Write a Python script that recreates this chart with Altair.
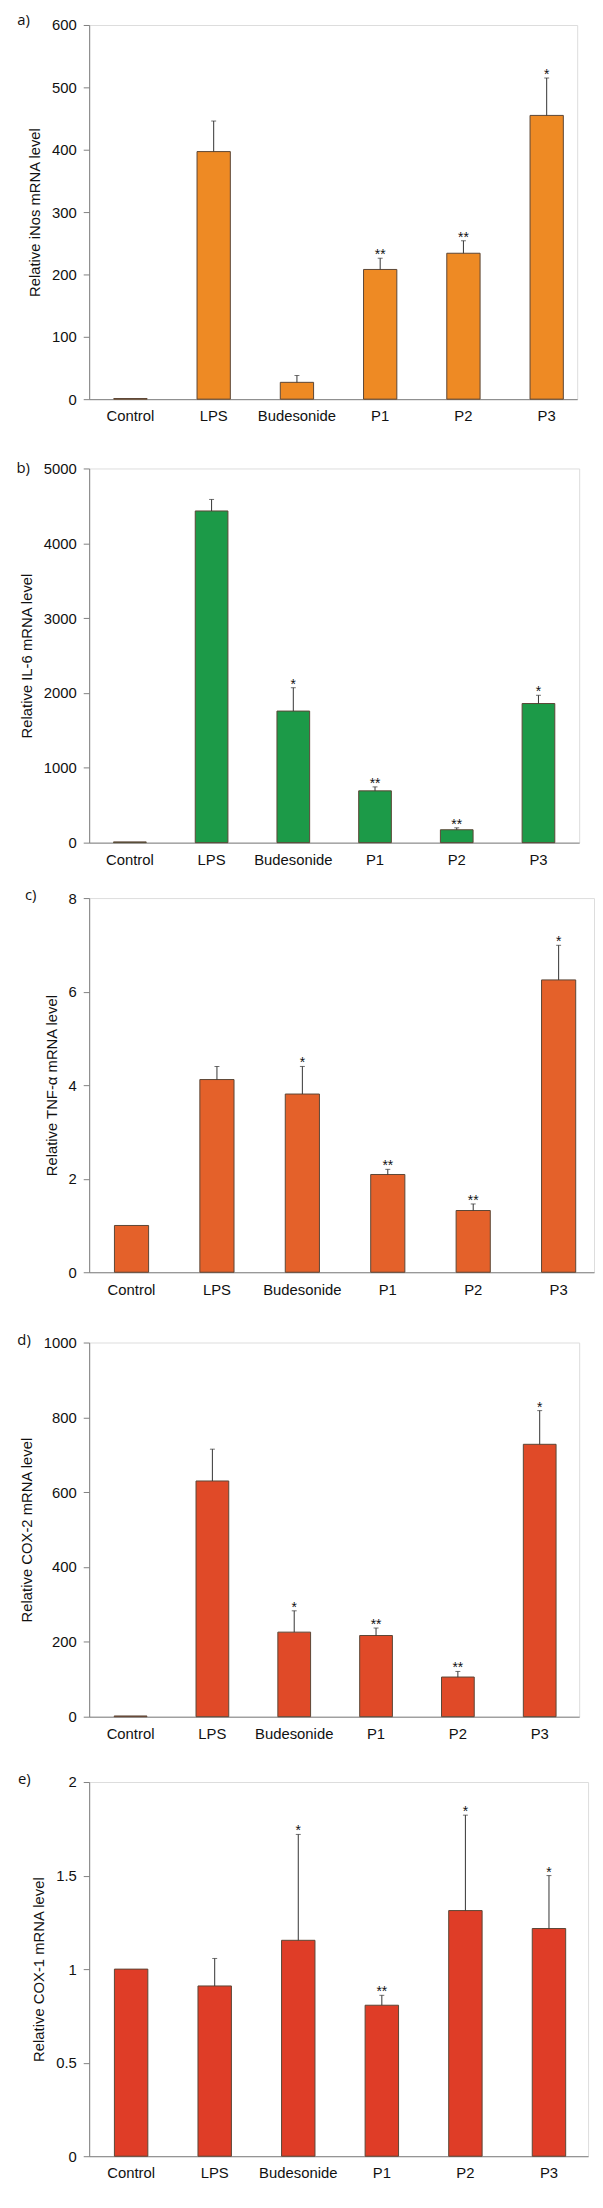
import altair as alt
import pandas as pd

categories = ["Control", "LPS", "Budesonide", "P1", "P2", "P3"]

inos_values = [1, 397, 27, 208, 234, 455]
inos_errors = [0, 49, 11, 18, 20, 60]
inos_stars = ["", "", "", "**", "**", "*"]
inos_ticks = [0, 100, 200, 300, 400, 500, 600]

il6_values = [10, 4432, 1758, 692, 172, 1859]
il6_errors = [0, 154, 312, 53, 26, 110]
il6_stars = ["", "", "*", "**", "**", "*"]
il6_ticks = [0, 1000, 2000, 3000, 4000, 5000]

tnf_values = [1.0, 4.12, 3.81, 2.09, 1.32, 6.25]
tnf_errors = [0, 0.28, 0.59, 0.11, 0.14, 0.74]
tnf_stars = ["", "", "*", "**", "**", "*"]
tnf_ticks = [0, 2, 4, 6, 8]

cox2_values = [2, 630, 226, 217, 106, 728]
cox2_errors = [0, 85, 57, 20, 15, 90]
cox2_stars = ["", "", "*", "**", "**", "*"]
cox2_ticks = [0, 200, 400, 600, 800, 1000]

cox1_values = [1.0, 0.91, 1.154, 0.807, 1.313, 1.217]
cox1_errors = [0, 0.147, 0.566, 0.053, 0.51, 0.283]
cox1_stars = ["", "", "*", "**", "*", "*"]
cox1_ticks = [0, 0.5, 1, 1.5, 2]

FONT = "Liberation Sans"
H = 378


def panel(letter, values, errs, stars, ticks, ytitle, color, width, po, align,
          letter_x, letter_dy):
    df = pd.DataFrame({"cat": categories, "value": values, "err": errs, "star": stars})
    df["top"] = df["value"] + df["err"]
    ymax = ticks[-1]

    xenc = alt.X(
        "cat:N", sort=categories, title=None,
        scale=alt.Scale(paddingInner=0.6, paddingOuter=po, align=align),
        axis=alt.Axis(labelAngle=0, ticks=False, labelPadding=10, labelFontSize=15,
                      labelFont=FONT, labelColor="#111", domainColor="#808080",
                      domainWidth=1),
    )
    yscale = alt.Scale(domain=[0, ymax], nice=False, zero=True)
    yaxis = alt.Axis(values=ticks, labelExpr="toString(datum.value)", grid=False,
                     tickSize=6, tickColor="#808080", domainColor="#808080",
                     labelPadding=7, labelFontSize=15, labelFont=FONT,
                     labelColor="#111", titleFont=FONT, titleFontSize=15,
                     titleFontWeight="normal", titleColor="#111", titlePadding=9)

    def yenc(field):
        return alt.Y(field, scale=yscale, axis=yaxis, title=ytitle)

    bars = alt.Chart(df).mark_bar(color=color, stroke="#5b4636", strokeWidth=1).encode(
        x=xenc, y=yenc("value:Q"))
    errdf = df[df["err"] > 0]
    rules = alt.Chart(errdf).mark_rule(color="#333333", strokeWidth=1).encode(
        x=xenc, y=yenc("value:Q"), y2="top:Q")
    caps = alt.Chart(errdf).mark_tick(color="#333333", size=5, thickness=1).encode(
        x=xenc, y=yenc("top:Q"))
    stardf = df[df["star"] != ""]
    startxt = alt.Chart(stardf).mark_text(baseline="alphabetic", dy=1, fontSize=14,
                                          font=FONT, color="#111").encode(
        x=xenc, y=yenc("top:Q"), text="star:N")
    lab = alt.Chart(pd.DataFrame({"t": [letter + ")"]})).mark_text(
        align="left", baseline="middle", font="Open Sans", fontSize=15, color="#111"
    ).encode(x=alt.value(letter_x), y=alt.value(letter_dy), text="t:N")
    return alt.layer(bars, rules, caps, startxt, lab).properties(width=width, height=H)


pa = panel("a", inos_values, inos_errors, inos_stars, inos_ticks,
           "Relative iNos mRNA level", "#EE8A24", 493, 0.231, 0.64, -72.6, -5)
pb = panel("b", il6_values, il6_errors, il6_stars, il6_ticks,
           "Relative IL-6 mRNA level", "#1C9A48", 495, 0.298, 0.5, -73.4, 0)
pc = panel("c", tnf_values, tnf_errors, tnf_stars, tnf_ticks,
           "Relative TNF-α mRNA level", "#E4612A", 510, 0.255, 0.58, -64.9, -3)
pd_ = panel("d", cox2_values, cox2_errors, cox2_stars, cox2_ticks,
            "Relative COX-2 mRNA level", "#E04A28", 495, 0.294, 0.52, -72.6, -2)
pe = panel("e", cox1_values, cox1_errors, cox1_stars, cox1_ticks,
           "Relative COX-1 mRNA level", "#DF3D27", 504, 0.285, 0.53, -71.9, -3)

chart = alt.vconcat(
    pa,
    alt.vconcat(
        pb,
        alt.vconcat(
            pc,
            alt.vconcat(pd_, pe, spacing=29),
            spacing=35),
        spacing=19),
    spacing=36,
).properties(
    padding={"left": 8, "top": -7, "right": 0, "bottom": 0}
).configure_view(stroke=None).configure(background="white")

chart.save("out.html", embed_options={"renderer": "svg", "actions": False})
